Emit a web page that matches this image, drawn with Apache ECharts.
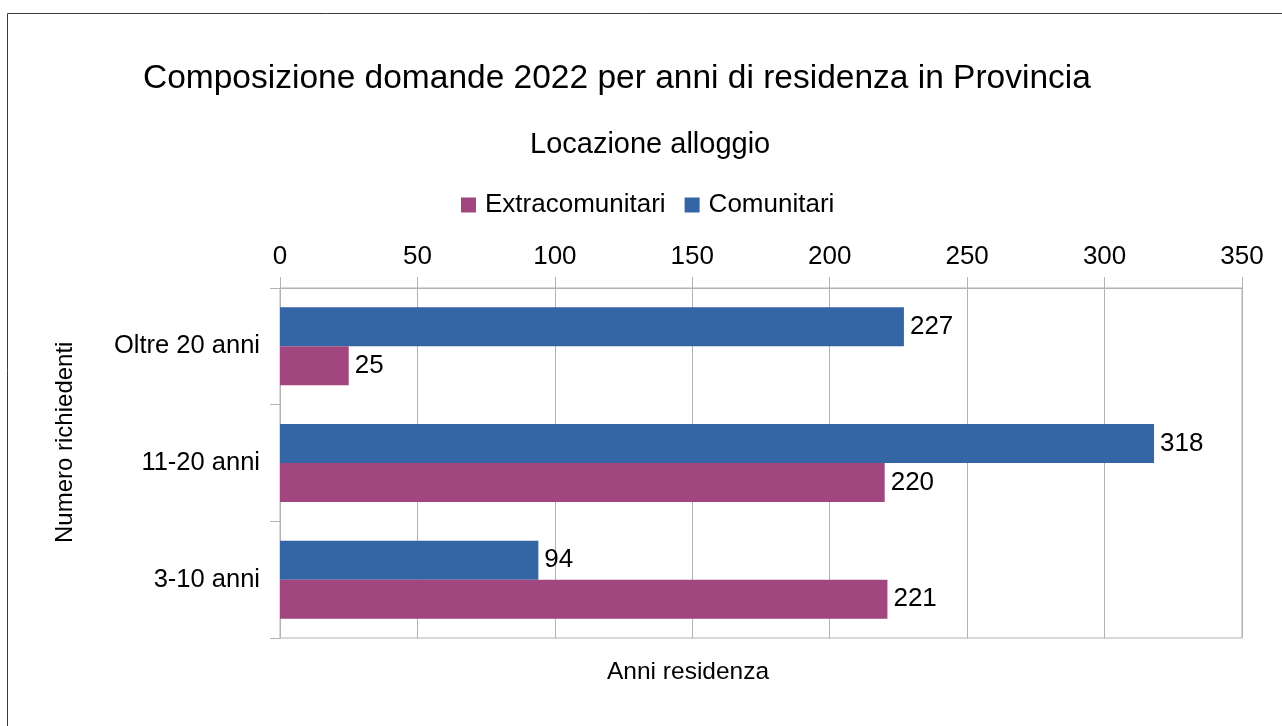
<!DOCTYPE html>
<html>
<head>
<meta charset="utf-8">
<script src="https://cdn.jsdelivr.net/npm/echarts@6/dist/echarts.min.js"></script>
<style>html,body{margin:0;padding:0;background:#fff}#c{width:1282px;height:726px}</style>
</head>
<body>
<div id="c"></div>
<script>
const categories = ['3-10 anni', '11-20 anni', 'Oltre 20 anni'];
const extracomunitari = [221, 220, 25];
const comunitari = [94, 318, 227];
const xTicks = { min: 0, max: 350, interval: 50 };
const titleText = 'Composizione domande 2022 per anni di residenza in Provincia';
const subtitleText = 'Locazione alloggio';
const xName = 'Anni residenza';
const yName = 'Numero richiedenti';

const FONT = 'Liberation Sans';
const chart = echarts.init(document.getElementById('c'), null, { renderer: 'canvas' });
chart.setOption({
  animation: false,
  textStyle: { fontFamily: FONT },
  title: [
    { text: titleText, left: 138, top: 57, textStyle: { fontFamily: FONT, fontSize: 33.5, fontWeight: 'normal', color: '#000' } },
    { text: subtitleText, left: 525, top: 125, textStyle: { fontFamily: FONT, fontSize: 29, fontWeight: 'normal', color: '#000' } }
  ],
  legend: {
    data: ['Extracomunitari', 'Comunitari'],
    left: 456, top: 187,
    itemWidth: 15, itemHeight: 15, itemGap: 19,
    icon: 'rect',
    textStyle: { fontFamily: FONT, fontSize: 26, color: '#000', padding: [0, 0, 0, 4] }
  },
  grid: { left: 280, top: 288, width: 962, height: 350, show: true, borderColor: '#b3b3b3', borderWidth: 1, containLabel: false },
  xAxis: {
    type: 'value', position: 'top', min: xTicks.min, max: xTicks.max, interval: xTicks.interval,
    axisLine: { show: true, lineStyle: { color: '#b3b3b3' } },
    axisTick: { show: true, length: 11, lineStyle: { color: '#b3b3b3' } },
    axisLabel: { fontFamily: FONT, fontSize: 26, color: '#000', margin: 18 },
    splitLine: { show: true, lineStyle: { color: '#b3b3b3' } }
  },
  yAxis: {
    type: 'category', data: categories,
    axisLine: { show: true, lineStyle: { color: '#b3b3b3' } },
    axisTick: { show: true, length: 10, lineStyle: { color: '#b3b3b3' } },
    axisLabel: { fontFamily: FONT, fontSize: 25.5, color: '#000', margin: 20 },
    splitLine: { show: false }
  },
  series: [
    { name: 'Comunitari', type: 'bar', data: comunitari, barWidth: 39, barGap: '0%',
      itemStyle: { color: '#3465a4' },
      label: { show: true, position: 'right', distance: 6, fontFamily: FONT, fontSize: 26, color: '#000' } },
    { name: 'Extracomunitari', type: 'bar', data: extracomunitari, barWidth: 39, barGap: '0%',
      itemStyle: { color: '#a1467e' },
      label: { show: true, position: 'right', distance: 6, fontFamily: FONT, fontSize: 26, color: '#000' } }
  ],
  graphic: [
    { type: 'rect', shape: { x: 7.5, y: 13.5, width: 1290, height: 730 }, style: { fill: 'none', stroke: '#3c3c3c', lineWidth: 1 }, silent: true },
    { type: 'text', left: 607, top: 660, style: { text: xName, font: '24.5px "Liberation Sans"', fill: '#000' } },
    { type: 'text', x: 53, y: 543, rotation: Math.PI / 2, style: { text: yName, font: '24px "Liberation Sans"', fill: '#000', textAlign: 'left', textVerticalAlign: 'top' } }
  ]
});
</script>
</body>
</html>
